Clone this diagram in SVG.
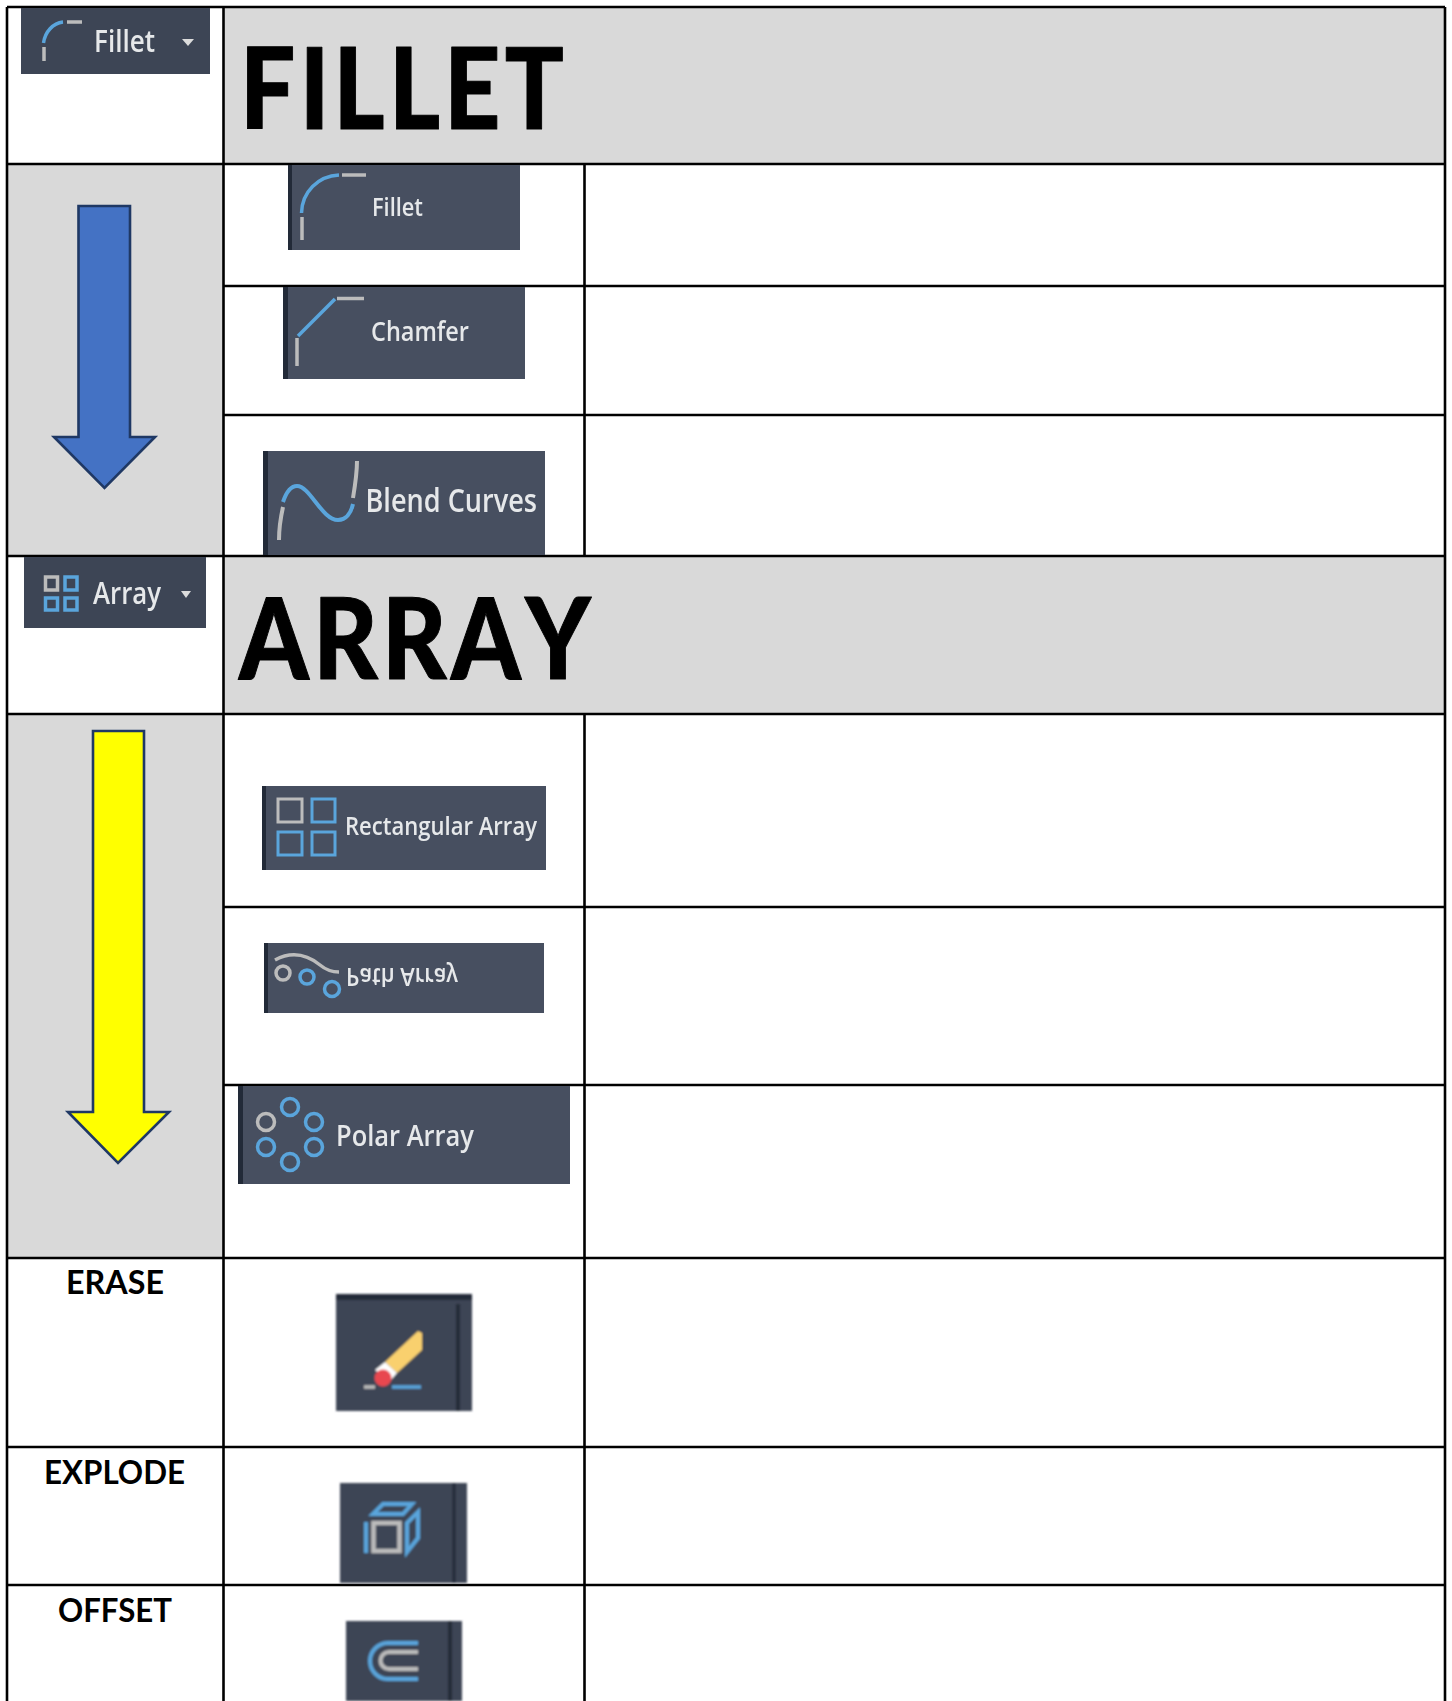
<svg xmlns="http://www.w3.org/2000/svg" width="1452" height="1701" viewBox="0 0 1452 1701">
<defs>
<filter id="soft" x="-5%" y="-5%" width="110%" height="110%"><feGaussianBlur stdDeviation="0.6"/></filter>
<filter id="softer" x="-5%" y="-5%" width="110%" height="110%"><feGaussianBlur stdDeviation="0.9"/></filter>
</defs>
<style>
.gray{fill:#d9d9d9}
.grid{stroke:#000;stroke-width:2.6;fill:none}
.title{font-family:"Lato","Open Sans","Liberation Sans",sans-serif;font-weight:900;font-size:113px;fill:#000;stroke:#000;stroke-width:1;stroke-linejoin:round;letter-spacing:5px;font-kerning:none}
.label{font-family:"Lato","Open Sans","Liberation Sans",sans-serif;font-weight:700;font-size:33px;fill:#000}
.btn{fill:#474f60}
.btnd{fill:#3c4555}
.strip{fill:#232c37}
.ui{font-family:"Open Sans","Noto Sans","Liberation Sans",sans-serif;font-weight:600;fill:#e6e8ea}
.b{stroke:#5aa5dc;stroke-width:3.500;fill:none}
.g{stroke:#bcbcbc;stroke-width:3.500;fill:none}
.tri{fill:#dcdcdc}
.arrow{stroke:#1f3864;stroke-width:2.6}
</style>
<rect width="1452" height="1701" fill="#fff"/>
<g id="cells">
<rect class="gray" x="223" y="7" width="1222" height="157"/>
<rect class="gray" x="7" y="164" width="216" height="392"/>
<rect class="gray" x="223" y="556" width="1222" height="158"/>
<rect class="gray" x="7" y="714" width="216" height="544"/>
</g>
<g id="grid" class="grid">
<path d="M7 7H1445M7 164H1445M223 286H1445M223 415H1445M7 556H1445M7 714H1445M223 907H1445M223 1085H1445M7 1258H1445M7 1447H1445M7 1585H1445"/>
<path d="M7 7V1701M223.500 7V1701M1445 7V1701M584.500 164V556M584.500 714V1701"/>
</g>
<g id="title-fillet"><text class="title" x="240" y="129" textLength="328" lengthAdjust="spacingAndGlyphs">FILLET</text></g>
<g id="title-array"><text class="title" x="239" y="679" textLength="356" lengthAdjust="spacingAndGlyphs">ARRAY</text></g>
<g id="label-erase"><text class="label" x="66" y="1294" textLength="98" lengthAdjust="spacingAndGlyphs">ERASE</text></g>
<g id="label-explode"><text class="label" x="44" y="1484" textLength="141" lengthAdjust="spacingAndGlyphs">EXPLODE</text></g>
<g id="label-offset"><text class="label" x="58" y="1622" textLength="114" lengthAdjust="spacingAndGlyphs">OFFSET</text></g>
<g id="arrow-blue"><path class="arrow" fill="#4472c4" d="M78.500 206H130V437H155L104.500 488L54 437H78.500Z"/></g>
<g id="arrow-yellow"><path class="arrow" fill="#ffff00" d="M93 731H144V1112H169L118 1163L68 1112H93Z"/></g>
<g id="btn-fillet-top" filter="url(#soft)">
<rect class="btnd" x="21" y="8" width="189" height="66"/>
<path class="b" d="M43.500 43C45 32 53 23 63 22"/><path class="g" d="M67 22H82M44 47V61"/>
<text class="ui" x="94" y="52" font-size="30" textLength="61" lengthAdjust="spacingAndGlyphs">Fillet</text>
<path class="tri" d="M182 39H194L188 46Z"/>
</g>
<g id="btn-fillet" filter="url(#soft)">
<rect class="btn" x="288" y="165" width="232" height="85"/><rect class="strip" x="288" y="165" width="4" height="85"/>
<path class="b" d="M301.500 213C302 192 318 176 339 175"/><path class="g" d="M342 175H366M302 217V240"/>
<text class="ui" x="372" y="216" font-size="26" textLength="51" lengthAdjust="spacingAndGlyphs">Fillet</text>
</g>
<g id="btn-chamfer" filter="url(#soft)">
<rect class="btn" x="283" y="287" width="242" height="92"/><rect class="strip" x="283" y="287" width="5" height="92"/>
<path class="b" d="M298 336L335 299"/><path class="g" d="M337 298.500H364M297 338V366"/>
<text class="ui" x="371" y="341" font-size="27" textLength="98" lengthAdjust="spacingAndGlyphs">Chamfer</text>
</g>
<g id="btn-blend" filter="url(#soft)">
<rect class="btn" x="263" y="451" width="282" height="104"/><rect class="strip" x="263" y="451" width="5" height="104"/>
<path class="b" style="stroke-width:4" d="M283 502C287 490 292 486 297 486C310 486 322 520 338 520C346 520 351 513 353 504"/><path class="g" style="stroke-width:4" d="M279 540C279 528 281 516 283 507M353 498C355 486 357 474 357 461"/>
<text class="ui" x="365.500" y="511.500" font-size="32" textLength="171.500" lengthAdjust="spacingAndGlyphs">Blend Curves</text>
</g>
<g id="btn-array-top" filter="url(#soft)">
<rect class="btnd" x="24" y="557" width="182" height="71"/>
<rect class="g" x="45.500" y="577" width="12" height="13"/><rect class="b" x="65" y="577" width="12" height="13"/>
<rect class="b" x="45.500" y="598" width="12" height="12"/><rect class="b" x="65" y="598" width="12" height="12"/>
<text class="ui" x="93" y="604" font-size="30" textLength="68" lengthAdjust="spacingAndGlyphs">Array</text>
<path class="tri" d="M181 591H191L186 598Z"/>
</g>
<g id="btn-rect-array" filter="url(#soft)">
<rect class="btn" x="262" y="786" width="284" height="84"/><rect class="strip" x="262" y="786" width="4" height="84"/>
<rect class="g" x="278" y="799" width="24" height="23" style="stroke-width:3"/><rect class="b" x="312" y="799" width="23" height="23" style="stroke-width:3"/>
<rect class="b" x="278" y="832" width="24" height="23" style="stroke-width:3"/><rect class="b" x="312" y="832" width="23" height="23" style="stroke-width:3"/>
<text class="ui" x="345" y="835" font-size="25" textLength="192" lengthAdjust="spacingAndGlyphs">Rectangular Array</text>
</g>
<g id="btn-path-array" filter="url(#soft)">
<rect class="btn" x="264" y="943" width="280" height="70"/><rect class="strip" x="264" y="943" width="4" height="70"/>
<path class="g" d="M275 960C290 952 305 953 320 965C326 970 332 972 339 972"/>
<circle class="g" cx="283" cy="973" r="7"/><circle class="b" cx="307" cy="977" r="7"/><circle class="b" cx="332" cy="989" r="7.500"/>
<text class="ui" transform="translate(346 968) scale(1 -1)" font-size="26" textLength="112" lengthAdjust="spacingAndGlyphs">Path Array</text>
</g>
<g id="btn-polar-array" filter="url(#soft)">
<rect class="btn" x="238" y="1086" width="332" height="98"/><rect class="strip" x="238" y="1086" width="5" height="98"/>
<circle class="b" cx="290" cy="1107" r="8.500"/><circle class="b" cx="314" cy="1122" r="8.500"/><circle class="g" cx="266" cy="1122" r="8.500"/>
<circle class="b" cx="266" cy="1147" r="8.500"/><circle class="b" cx="314" cy="1147" r="8.500"/><circle class="b" cx="290" cy="1162" r="8.500"/>
<text class="ui" x="336" y="1146" font-size="29" textLength="138" lengthAdjust="spacingAndGlyphs">Polar Array</text>
</g>
<g id="btn-erase" filter="url(#softer)">
<rect class="btnd" x="336" y="1294" width="136" height="117"/><rect class="strip" x="336" y="1294" width="136" height="6"/>
<rect class="strip" x="456" y="1304" width="4" height="107"/>
<path fill="#f9d06e" d="M418 1331L422 1333V1350L397 1373L385 1362Z"/>
<path fill="#fff" d="M385 1362L397 1373L390 1381L375 1370Z"/>
<circle cx="383" cy="1378" r="8.500" fill="#e8474f"/>
<path class="g" d="M364 1387H375"/><path class="b" d="M392 1387H421"/>
</g>
<g id="btn-explode" filter="url(#softer)">
<rect class="btnd" x="340" y="1483" width="127" height="100"/><rect class="strip" x="452.500" y="1483" width="3" height="100"/>
<rect class="g" x="373.500" y="1523" width="26" height="28" style="stroke-width:4.5"/>
<path class="b" style="stroke-width:4" d="M366 1522V1553M373 1514L383 1504H412L403 1514ZM407 1523L418 1512V1538L407 1552Z"/>
</g>
<g id="btn-offset" filter="url(#softer)">
<rect class="btnd" x="346" y="1621" width="116" height="80"/><rect class="strip" x="448" y="1621" width="4" height="80"/>
<path class="b" d="M418 1643H388A18 18 0 0 0 388 1679H418" style="stroke-width:4"/>
<path class="g" d="M418 1652H389A8.500 8.500 0 0 0 389 1669H418" style="stroke-width:4"/>
</g>
</svg>
